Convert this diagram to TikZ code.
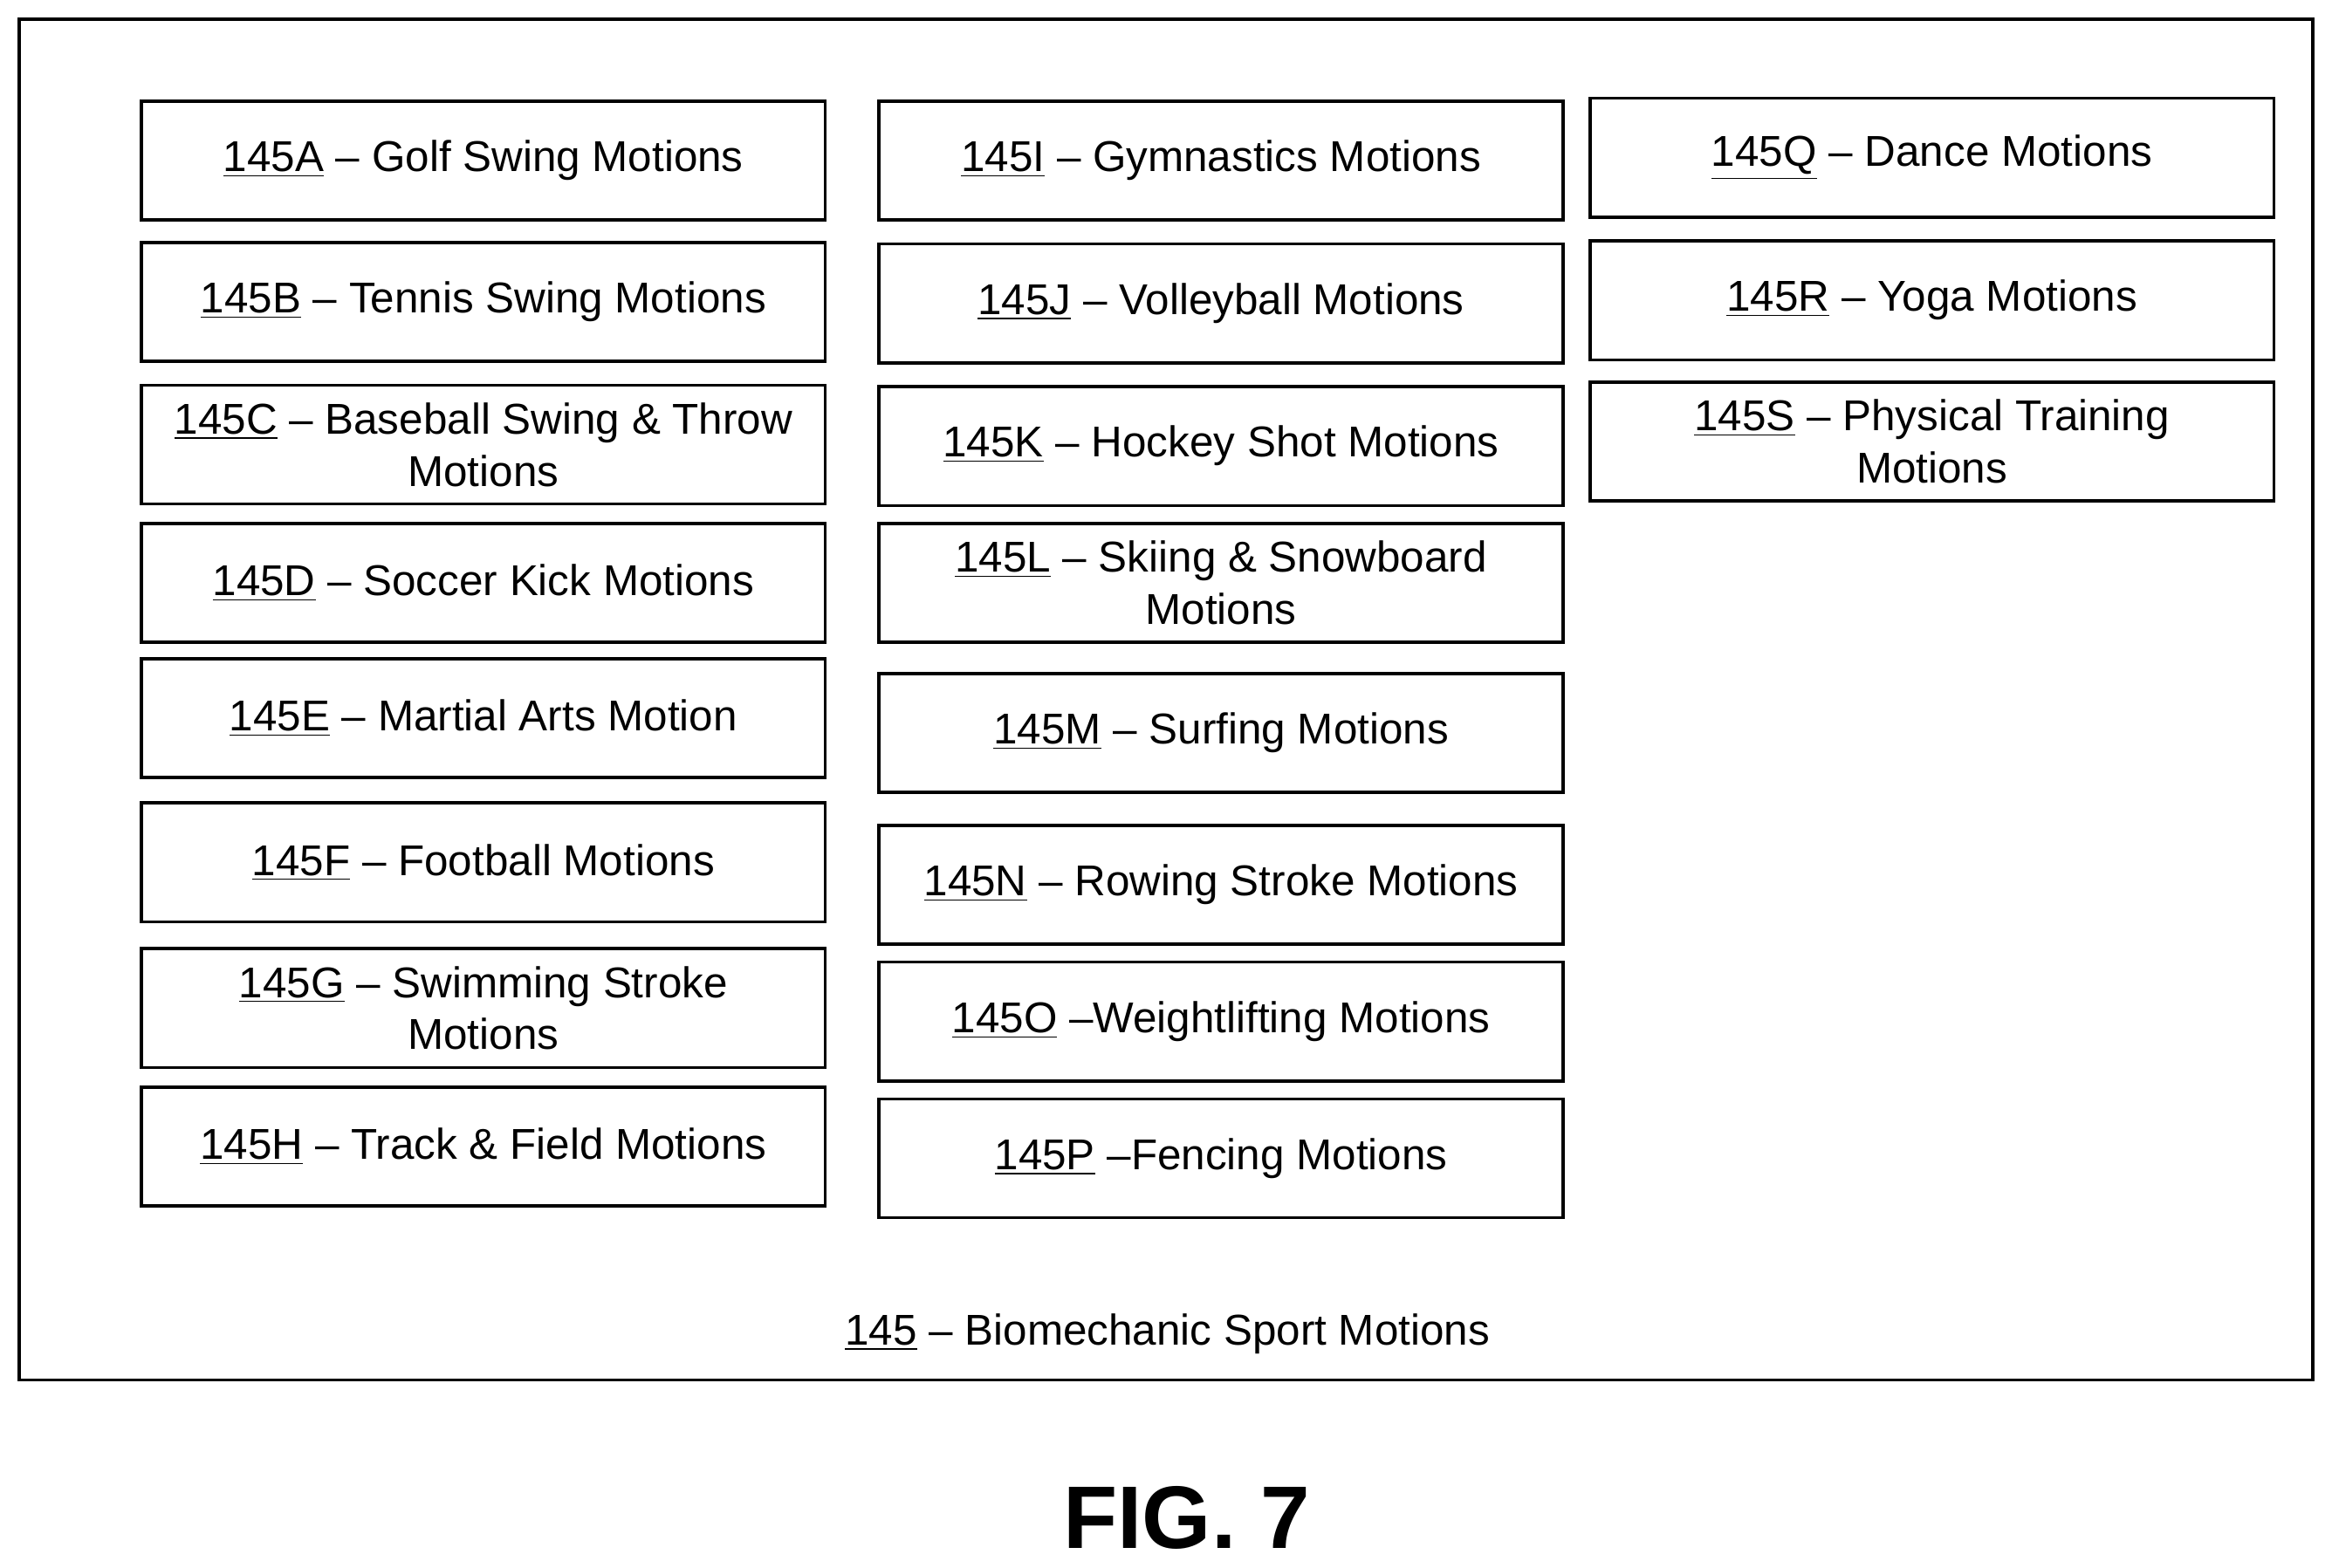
\documentclass[tikz,border=0pt]{standalone}
\usepackage{fontspec}
\setmainfont{Liberation Sans}
\usepackage{tikz}

\tikzset{
  motion/.style={draw, line width=1.2pt, minimum width=9.2cm, minimum height=1.6cm,
    align=center, inner sep=2pt, font=\fontsize{16.5}{20}\selectfont},
}

\begin{document}
\begin{tikzpicture}[x=0.02cm, y=-0.02cm]
        \useasboundingbox (0,0) rectangle (1568,1054);
        \draw[line width=1.2pt] (13,13) rectangle (1555,928);
        % first column
        \node[motion] (a) at (325,108) {\underline{145A} -- Golf Swing Motions};
        \node[motion] (b) at (325,203) {\underline{145B} -- Tennis Swing Motions};
        \node[motion] (c) at (325,299) {\underline{145C} -- Baseball Swing \& Throw\\Motions};
        \node[motion] (d) at (325,392) {\underline{145D} -- Soccer Kick Motions};
        \node[motion] (e) at (325,483) {\underline{145E} -- Martial Arts Motion};
        \node[motion] (f) at (325,580) {\underline{145F} -- Football Motions};
        \node[motion] (g) at (325,678) {\underline{145G} -- Swimming Stroke\\Motions};
        \node[motion] (h) at (325,771) {\underline{145H} -- Track \& Field Motions};
        % second column
        \node[motion] (i) at (821,108) {\underline{145I} -- Gymnastics Motions};
        \node[motion] (j) at (821,204) {\underline{145J} -- Volleyball Motions};
        \node[motion] (k) at (821,300) {\underline{145K} -- Hockey Shot Motions};
        \node[motion] (l) at (821,392) {\underline{145L} -- Skiing \& Snowboard\\Motions};
        \node[motion] (m) at (821,493) {\underline{145M} -- Surfing Motions};
        \node[motion] (n) at (821,595) {\underline{145N} -- Rowing Stroke Motions};
        \node[motion] (o) at (821,687) {\underline{145O} --Weightlifting Motions};
        \node[motion] (p) at (821,779) {\underline{145P} --Fencing Motions};
        % third column
        \node[motion] (q) at (1299,106) {\underline{145Q} -- Dance Motions};
        \node[motion] (r) at (1299,202) {\underline{145R} -- Yoga Motions};
        \node[motion] (s) at (1299,297) {\underline{145S} -- Physical Training\\Motions};
        \node[font=\fontsize{16.5}{20}\selectfont] (title) at (785,897) {\underline{145} -- Biomechanic Sport Motions};
        \node[font=\fontsize{34}{38}\selectfont\bfseries] (fig) at (798,1021) {FIG. 7};
\end{tikzpicture}
\end{document}
